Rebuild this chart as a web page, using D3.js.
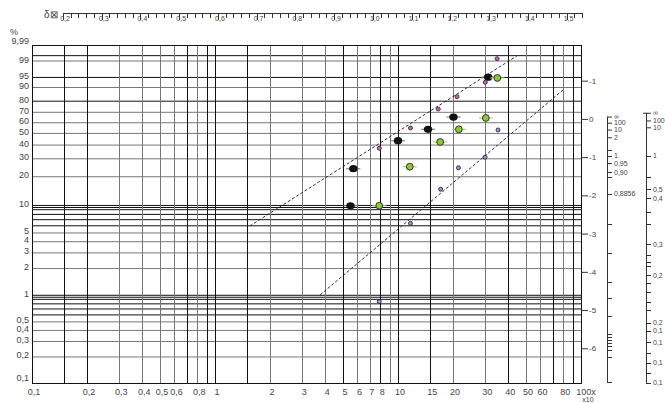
<!DOCTYPE html>
<html><head><meta charset="utf-8">
<script src="https://cdn.jsdelivr.net/npm/d3@7"></script>
<style>
body{margin:0;background:#fff}
svg{display:block}
text{font-family:"Liberation Sans",Arial,sans-serif;fill:#444}
</style>
</head><body>
<svg id="c" width="665" height="403"></svg>
<script>
// ---------- data ----------
const probGrid = [99.5,99,95,90,80,70,60,50,40,30,20,10,9.5,9,8,7,6,5,4,3,2,1,0.95,0.9,0.8,0.7,0.6,0.5,0.4,0.3,0.2];
const probTicks = [99.9,99,95,90,80,70,60,50,40,30,20,10,5,4,3,2,1,0.5,0.4,0.3,0.2,0.1];
const probTickLabels = ["9,99","99","95","90","80","70","60","50","40","30","20","10","5","4","3","2","1","0,5","0,4","0,3","0,2","0,1"];
const xGrid = [0.15,0.2,0.3,0.4,0.5,0.6,0.7,0.8,0.9,1,1.5,2,3,4,5,6,7,8,9,10,15,20,30,40,50,60,70,80,90];
const xTicks = [0.1,0.2,0.3,0.4,0.5,0.6,0.8,1,2,3,4,5,6,7,8,10,15,20,30,40,50,60,80,100];
const xTickLabels = ["0,1","0,2","0,3","0,4","0,5","0,6","0,8","1","2","3","4","5","6","7","8","10","15","20","30","40","50","60","80","100x"];
const deltaMajor = [0.2,0.3,0.4,0.5,0.6,0.7,0.8,0.9,1.0,1.1,1.2,1.3,1.4,1.5];
const deltaLabels = ["0,2","0,3","0,4","0,5","0,6","0,7","0,8","0,9","1,0","1,1","1,2","1,3","1,4","1,5"];
const rightTicks = [1,0,-1,-2,-3,-4,-5,-6];
const rightTickLabels = ["-1","0","-1","-2","-3","-4","-5","-6"];
// auxiliary scales (positions in Weibull units w = ln(-ln(1-F)))
const scaleAW = [0.06,-0.10,-0.28,-0.48,-0.813,-0.970,-1.154,-1.389,-1.520,-1.964,-2.749,-3.507,-4.266,-4.684,-5.155,-5.626,-5.704,-5.783,-5.861,-5.940,-6.044,-6.227,-6.881];
const scaleALabels = ["∞","100","10","2","","1","0,95","0,90","","0,8856","","","","","","","","","","","","",""];
const scaleBW = [0.16,-0.04,-0.22,-0.970,-1.520,-1.834,-2.069,-2.435,-2.749,-3.272,-3.560,-3.743,-3.848,-4.083,-4.292,-4.527,-4.789,-4.998,-5.338,-5.547,-5.835,-6.122,-6.384,-6.646,-6.907];
const scaleBLabels = ["∞","100","10","1","","0,5","0,4","","","0,3","","","","0,2","","","","","0,2","0,1","0,1","","0,1","","0,1"];
// series
const blackX = [5.5,5.7,10.0,14.6,20.1,31.1];
const blackF = [9.8,23.8,43.2,53.3,65.0,94.9];
const greenX = [7.9,11.6,17.0,21.5,30.2,34.9];
const greenF = [9.8,24.9,42.1,53.3,64.1,94.6];
const purpleX = [7.9,11.7,16.6,21.0,30.0,34.8];
const purpleF = [37.1,54.5,72.6,83.3,92.6,99.2];
const blueX = [7.9,11.7,17.1,21.4,29.9,35.2];
const blueF = [0.84,6.3,14.7,24.3,30.7,52.7];
const fitUpperX = [1.55,45.4];
const fitUpperF = [5.9,99.51];
const fitLowerX = [3.75,79.7];
const fitLowerF = [0.995,88.1];

// ---------- scales ----------
const L = 32, R = 581, T = 45, B = 383;
const wb = p => Math.log(-Math.log(1 - p/100));
const yW = d3.scaleLinear().domain([wb(0.1), wb(99.9)]).range([B, T]);
const yP = p => yW(wb(p));
const x = d3.scaleLog().domain([0.1,100]).range([L, R]);
const xd = d3.scaleLinear().domain([0.2,1.54]).range([63,582]);

const svg = d3.select("#c");
const g = svg.append("g");

// grid
const darkP = v => v===99.5||v===95||v===80||(v<=10&&v>=6)||(v<=1&&v>=0.6);
g.selectAll(".hg").data(probGrid).join("line")
  .attr("x1",L).attr("x2",R).attr("y1",d=>yP(d)+0.5).attr("y2",d=>yP(d)+0.5)
  .attr("stroke",d=>darkP(d)?"#111":"#777").attr("stroke-width",1);
const darkX = v => [0.15,0.2,0.7,0.9,1,1.5,5,8,10,15,40,70,90].includes(v);
g.selectAll(".vg").data(xGrid).join("line")
  .attr("x1",d=>Math.round(x(d))+0.5).attr("x2",d=>Math.round(x(d))+0.5).attr("y1",T).attr("y2",B)
  .attr("stroke",d=>darkX(d)?"#111":"#777").attr("stroke-width",1);
g.append("rect").attr("x",L+0.5).attr("y",T+0.5).attr("width",R-L).attr("height",B-T)
  .attr("fill","none").attr("stroke","#111").attr("stroke-width",1);

// left labels
g.selectAll(".pl").data(probTicks).join("text")
  .attr("x",29).attr("y",(d,i)=> yP(d) + (i===0?-1:(d===0.1?-2:2)))
  .attr("text-anchor","end").attr("font-size",9).text((d,i)=>probTickLabels[i]);
g.append("text").attr("x",10).attr("y",35).attr("font-size",9).text("%");

// bottom labels
g.selectAll(".xl").data(xTicks).join("text")
  .attr("x",(d,i)=> x(d) + (i===xTicks.length-1?5:2)).attr("y",395)
  .attr("text-anchor","middle").attr("font-size",9).text((d,i)=>xTickLabels[i]);
g.append("text").attr("x",588).attr("y",402).attr("text-anchor","middle").attr("font-size",7).text("x10");

// top delta axis
const dTicks = d3.range(0,68).map(i=>+(0.2+i*0.02).toFixed(2));
g.append("line").attr("x1",63).attr("x2",582).attr("y1",13.5).attr("y2",13.5).attr("stroke","#333");
g.selectAll(".dt").data(dTicks).join("line")
  .attr("x1",d=>Math.round(xd(d))+0.5).attr("x2",d=>Math.round(xd(d))+0.5)
  .attr("y1",13).attr("y2",d=>deltaMajor.some(m=>Math.abs(m-d)<1e-6)?20:18)
  .attr("stroke","#333");
g.selectAll(".dl").data(deltaMajor).join("text")
  .attr("x",d=>xd(d)+2).attr("y",21).attr("text-anchor","middle").attr("font-size",7)
  .text((d,i)=>deltaLabels[i]);
g.append("text").attr("x",44).attr("y",18).attr("font-size",10).text("δ⊠");

// right axis
g.selectAll(".rt").data(rightTicks).join("line")
  .attr("x1",R).attr("x2",R+7).attr("y1",d=>yW(d)+0.5).attr("y2",d=>yW(d)+0.5).attr("stroke","#333");
g.selectAll(".rl").data(rightTicks).join("text")
  .attr("x",R+8).attr("y",d=>yW(d)+3).attr("font-size",8).text((d,i)=>rightTickLabels[i]);

// auxiliary scale A
const axA = 607, axB = 646;
g.append("line").attr("x1",axA+0.5).attr("x2",axA+0.5).attr("y1",yW(scaleAW[0])).attr("y2",yW(scaleAW[scaleAW.length-1])).attr("stroke","#333");
g.selectAll(".at").data(scaleAW).join("line")
  .attr("x1",axA).attr("x2",axA+5).attr("y1",d=>yW(d)+0.5).attr("y2",d=>yW(d)+0.5).attr("stroke","#333");
g.selectAll(".al").data(scaleAW).join("text")
  .attr("x",axA+7).attr("y",d=>yW(d)+2.5).attr("font-size",7).text((d,i)=>scaleALabels[i]);
// auxiliary scale B
g.append("line").attr("x1",axB+0.5).attr("x2",axB+0.5).attr("y1",yW(scaleBW[0])).attr("y2",yW(scaleBW[scaleBW.length-1])).attr("stroke","#333");
g.selectAll(".bt").data(scaleBW).join("line")
  .attr("x1",(d,i)=>i===0?axB-3:axB).attr("x2",axB+5).attr("y1",d=>yW(d)+0.5).attr("y2",d=>yW(d)+0.5).attr("stroke","#333");
g.selectAll(".bl").data(scaleBW).join("text")
  .attr("x",axB+7).attr("y",d=>yW(d)+2.5).attr("font-size",7).text((d,i)=>scaleBLabels[i]);

// fit lines
const fit = (xs,fs)=> g.append("line").attr("x1",x(xs[0])).attr("y1",yP(fs[0])).attr("x2",x(xs[1])).attr("y2",yP(fs[1]))
  .attr("stroke","#333").attr("stroke-width",1).attr("stroke-dasharray","3,2");
fit(fitUpperX,fitUpperF);
fit(fitLowerX,fitLowerF);

// points
const pts = (xs,fs)=> xs.map((v,i)=>({x:x(v),y:yP(fs[i])}));
const bk = g.append("g");
bk.selectAll("line").data(pts(blackX,blackF)).join("line")
  .attr("x1",d=>d.x-7).attr("x2",d=>d.x+7).attr("y1",d=>d.y).attr("y2",d=>d.y).attr("stroke","#888").attr("stroke-width",1.2);
bk.selectAll("ellipse").data(pts(blackX,blackF)).join("ellipse")
  .attr("cx",d=>d.x).attr("cy",d=>d.y).attr("rx",4.2).attr("ry",3.6).attr("fill","#111");
const gr = g.append("g");
gr.selectAll("line").data(pts(greenX,greenF)).join("line")
  .attr("x1",d=>d.x-7).attr("x2",d=>d.x+7).attr("y1",d=>d.y).attr("y2",d=>d.y).attr("stroke","#a8d870").attr("stroke-width",1.2);
gr.selectAll("circle").data(pts(greenX,greenF)).join("circle")
  .attr("cx",d=>d.x).attr("cy",d=>d.y).attr("r",3.4).attr("fill","#8dc63f").attr("stroke","#333").attr("stroke-width",1);
g.append("g").selectAll("circle").data(pts(purpleX,purpleF)).join("circle")
  .attr("cx",d=>d.x).attr("cy",d=>d.y).attr("r",2).attr("fill","#b070a8").attr("stroke","#4a2245").attr("stroke-width",0.9);
g.append("g").selectAll("circle").data(pts(blueX,blueF)).join("circle")
  .attr("cx",d=>d.x).attr("cy",d=>d.y).attr("r",2).attr("fill","#9a9ac0").attr("stroke","#25254a").attr("stroke-width",0.9);
</script>
</body></html>
